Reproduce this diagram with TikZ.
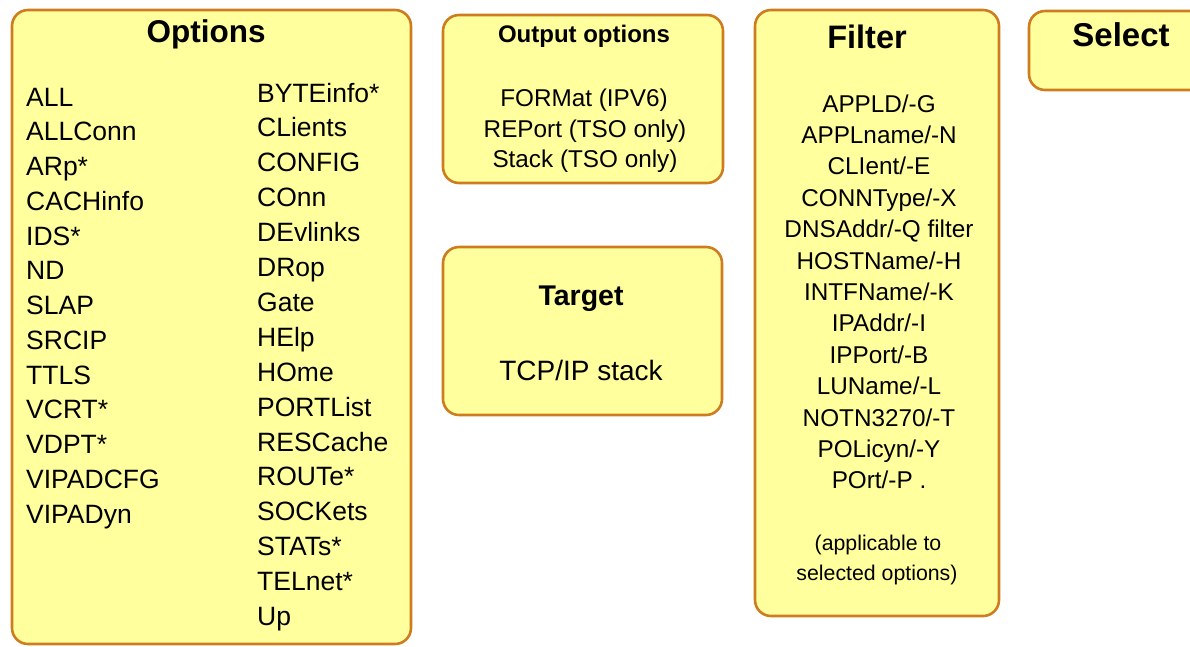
\documentclass[tikz,border=0pt]{standalone}
\usepackage{fontspec}
\setmainfont{Liberation Sans}
\definecolor{boxfill}{RGB}{255,255,158}
\definecolor{boxline}{RGB}{206,124,30}
\tikzset{
  panel/.style={draw=boxline, fill=boxfill, line width=2.6pt, rounded corners=16pt},
  item/.style={inner sep=0pt, font=\fontsize{26.5}{30}\selectfont},
  smallitem/.style={inner sep=0pt, font=\fontsize{24.3}{28}\selectfont},
  noteitem/.style={inner sep=0pt, font=\fontsize{21.3}{25}\selectfont},
  title/.style={inner sep=0pt, font=\bfseries}
}
\begin{document}
\begin{tikzpicture}[x=1pt, y=-1pt]
\clip (0,0) rectangle (1190,646);

% panels
\draw[panel] (12,10) rectangle (411,644);
\draw[panel] (443,15) rectangle (723,183);
\draw[panel] (443,247) rectangle (722,415);
\draw[panel] (755,10) rectangle (999,616);
\draw[panel] (1029,11) rectangle (1215,90);

% Options
\node[title, font=\bfseries\fontsize{31.5}{35}\selectfont, anchor=base] (optTitle) at (206,42) {Options};
\foreach \t [count=\i from 0] in {ALL, ALLConn, ARp*, CACHinfo, IDS*, ND, SLAP, SRCIP, TTLS, VCRT*, VDPT*, VIPADCFG, VIPADyn}
  \node[item, anchor=base west] (optL\i) at (26,{106+34.75*\i}) {\t};
\foreach \t [count=\i from 0] in {BYTEinfo*, CLients, CONFIG, COnn, DEvlinks, DRop, Gate, HElp, HOme, PORTList, RESCache, ROUTe*, SOCKets, STATs*, TELnet*, Up}
  \node[item, anchor=base west] (optR\i) at (257,{102+34.9*\i}) {\t};

% Output options
\node[title, font=\bfseries\fontsize{24}{28}\selectfont, anchor=base] (outTitle) at (584,42) {Output options};
\node[smallitem, anchor=base] (out0) at (584,106.5) {FORMat (IPV6)};
\node[smallitem, anchor=base] (out1) at (585,137) {REPort (TSO only)};
\node[smallitem, anchor=base] (out2) at (585,167.5) {Stack (TSO only)};

% Target
\node[title, font=\bfseries\fontsize{28.5}{32}\selectfont, anchor=base] (tgtTitle) at (581,305) {Target};
\node[item, font=\fontsize{28}{32}\selectfont, anchor=base] (tgt0) at (581,380) {TCP/IP stack};

% Filter
\node[title, font=\bfseries\fontsize{32.5}{36}\selectfont, anchor=base] (fltTitle) at (867,48) {Filter};
\foreach \t [count=\i from 0] in {APPLD/-G, APPLname/-N, CLIent/-E, CONNType/-X, DNSAddr/-Q filter, HOSTName/-H, INTFName/-K, IPAddr/-I, IPPort/-B, LUName/-L, NOTN3270/-T, POLicyn/-Y, POrt/-P .}
  \node[smallitem, anchor=base] (flt\i) at (879,{112+31.4*\i}) {\t};
\node[noteitem, anchor=base] (fltNote0) at (878,550) {(applicable to};
\node[noteitem, anchor=base] (fltNote1) at (877,580) {selected options)};

% Select
\node[title, font=\bfseries\fontsize{33}{37}\selectfont, anchor=base] (selTitle) at (1121,46) {Select};
\end{tikzpicture}
\end{document}
